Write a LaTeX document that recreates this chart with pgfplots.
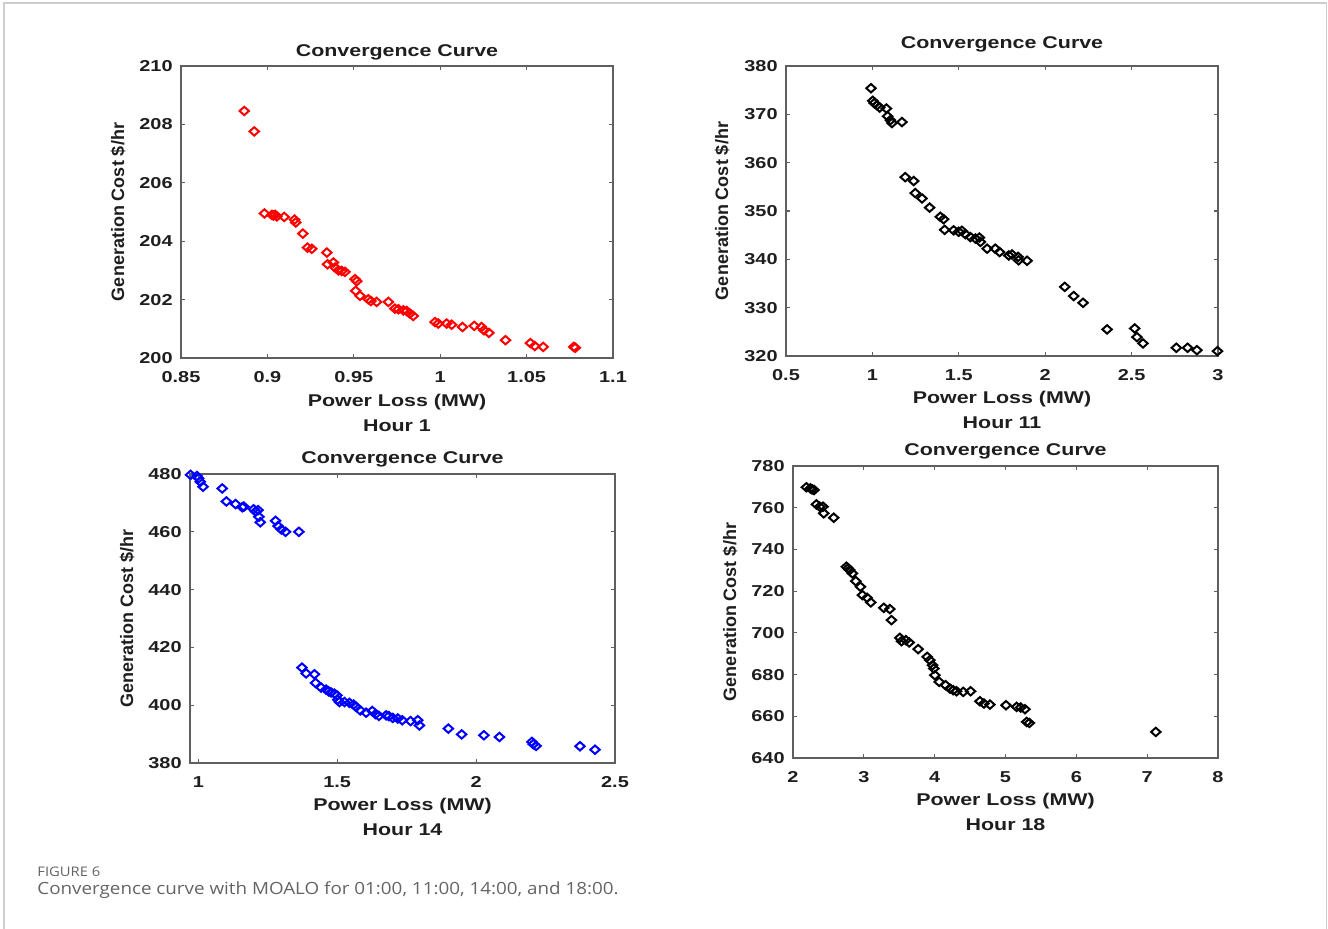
\documentclass[border=0pt]{standalone}
\usepackage{fontspec}
\usepackage{pgfplots}
\pgfplotsset{compat=1.18}
\setmainfont{Liberation Sans}
\newfontfamily\matfont[FakeStretch=1.26]{Liberation Sans}
\newfontfamily\capfont[FakeStretch=1.12]{Open Sans}
\definecolor{axgray}{RGB}{95,95,95}
\definecolor{txt}{RGB}{30,30,30}
\definecolor{framegray}{RGB}{205,205,205}
\definecolor{capgray}{RGB}{100,100,100}
\newcommand\tickf{\matfont\bfseries\fontsize{7.9}{9}\selectfont}
\newcommand\labf{\matfont\bfseries\fontsize{8.5}{10}\selectfont}
\newcommand\ylabf{\bfseries\fontsize{9}{10}\selectfont}

\pgfplotsset{
  panel/.style={
    scale only axis, clip=false, anchor=north west,
    axis line style={axgray, line width=0.7pt},
    tick style={axgray, line width=0.6pt},
    tick align=inside, major tick length=1.8pt,
    every tick label/.append style={font=\tickf, text=txt, inner sep=0pt},
    xticklabel style={anchor=center, yshift=-9.5pt},
    yticklabel style={anchor=east, xshift=-4pt},
    /pgf/number format/assume math mode=true,
    /pgf/number format/fixed,
    /pgf/number format/precision=2,
    scaled ticks=false,
  },
  pts/.style={only marks, mark=diamond, mark size=2.1pt, line width=1pt,
    mark options={xscale=1.5, fill=none}, #1},
}

\begin{document}
\begin{tikzpicture}
\path[use as bounding box] (0,0) rectangle (664pt,-464.5pt);
\draw[framegray, line width=0.8pt] (2pt,-470pt) -- (2pt,-1.5pt) -- (663.3pt,-1.5pt) -- (663.3pt,-470pt);

% Hour 1
\begin{axis}[panel, at={(90.5pt,-33pt)}, width=216pt, height=146pt,
  xmin=0.85, xmax=1.1, ymin=200, ymax=210,
  xtick={0.85,0.9,0.95,1,1.05,1.1}, ytick={200,202,...,210}]
\addplot[pts=red] coordinates {
(0.8866,208.46) (0.8924,207.76) (0.8983,204.95) (0.9026,204.90) (0.9035,204.88)
(0.9045,204.90) (0.9055,204.85) (0.9097,204.83) (0.9157,204.74) (0.9164,204.64)
(0.9205,204.26) (0.9232,203.78) (0.9257,203.74) (0.9344,203.61) (0.9348,203.21)
(0.9382,203.27) (0.9392,203.10) (0.9411,203.00) (0.9430,202.98) (0.9449,202.95)
(0.9507,202.70) (0.9517,202.63) (0.9511,202.30) (0.9536,202.13) (0.9584,202.01)
(0.9599,201.95) (0.9632,201.92) (0.9700,201.92) (0.9738,201.69) (0.9758,201.67)
(0.9787,201.63) (0.9806,201.61) (0.9825,201.52) (0.9844,201.44) (0.9970,201.23)
(0.9989,201.18) (1.0037,201.18) (1.0066,201.14) (1.0129,201.06) (1.0197,201.10)
(1.0239,201.06) (1.0253,200.95) (1.0282,200.86) (1.0378,200.61) (1.0522,200.51)
(1.0547,200.41) (1.0596,200.38) (1.0773,200.38) (1.0782,200.35)
};
\end{axis}

% Hour 11
\begin{axis}[panel, at={(393pt,-33pt)}, width=216pt, height=145pt,
  xmin=0.5, xmax=3, ymin=320, ymax=380,
  xtick={0.5,1,...,3}, ytick={320,330,...,380}]
\addplot[pts=black] coordinates {
(0.992,375.4) (1.002,372.8) (1.011,372.3) (1.027,371.9) (1.042,371.4)
(1.081,371.2) (1.088,369.6) (1.104,368.8) (1.113,368.2) (1.171,368.4)
(1.190,357.0) (1.239,356.2) (1.248,353.7) (1.287,352.6) (1.331,350.7)
(1.393,348.8) (1.412,348.3) (1.418,346.1) (1.470,346.0) (1.499,345.7)
(1.518,345.9) (1.538,345.2) (1.567,344.6) (1.596,344.3) (1.619,344.5)
(1.625,343.6) (1.664,342.2) (1.711,342.2) (1.736,341.5) (1.789,340.8)
(1.808,341.0) (1.843,340.5) (1.846,339.8) (1.895,339.7) (2.113,334.3)
(2.165,332.4) (2.219,331.0) (2.358,325.5) (2.518,325.7) (2.531,323.9)
(2.566,322.6) (2.759,321.7) (2.824,321.7) (2.878,321.2) (2.997,321.0)
};
\end{axis}

% Hour 14
\begin{axis}[panel, at={(95pt,-237pt)}, width=212.5pt, height=144.5pt,
  xmin=0.97, xmax=2.5, ymin=380, ymax=480,
  xtick={1,1.5,2,2.5}, ytick={380,400,...,480}]
\addplot[pts=blue] coordinates {
(0.972,479.7) (0.995,479.3) (1.001,478.5) (1.007,477.3) (1.017,475.6)
(1.086,475.0) (1.101,470.5) (1.134,469.6) (1.158,468.5) (1.164,468.7)
(1.199,467.8) (1.206,467.0) (1.215,467.5) (1.218,465.2) (1.223,463.3)
(1.278,463.8) (1.287,462.0) (1.299,460.8) (1.314,460.0) (1.362,460.0)
(1.373,413.0) (1.388,411.0) (1.418,410.7) (1.422,407.7) (1.442,406.1)
(1.460,405.4) (1.469,404.8) (1.478,404.4) (1.490,404.0) (1.499,403.4)
(1.502,401.9) (1.508,401.1) (1.526,401.1) (1.544,400.8) (1.559,400.2)
(1.568,399.4) (1.583,398.2) (1.604,397.4) (1.626,398.0) (1.638,396.9)
(1.650,396.3) (1.676,396.5) (1.686,396.2) (1.700,395.6) (1.718,395.4)
(1.734,394.8) (1.764,394.5) (1.790,394.8) (1.796,393.0) (1.900,391.9)
(1.948,389.9) (2.028,389.6) (2.084,389.0) (2.201,387.3) (2.206,386.5)
(2.216,385.9) (2.374,385.8) (2.428,384.6)
};
\end{axis}

% Hour 18
\begin{axis}[panel, at={(396.5pt,-233pt)}, width=212.5pt, height=146pt,
  xmin=2, xmax=8, ymin=640, ymax=780,
  xtick={2,3,...,8}, ytick={640,660,...,780}]
\addplot[pts=black] coordinates {
(2.189,769.8) (2.245,769.3) (2.269,768.8) (2.297,768.5) (2.330,761.6)
(2.377,760.5) (2.424,760.5) (2.434,757.3) (2.575,755.2) (2.754,731.7)
(2.778,730.9) (2.801,730.1) (2.839,728.5) (2.886,724.8) (2.952,722.1)
(2.980,718.1) (3.046,716.8) (3.098,714.6) (3.282,712.0) (3.367,711.4)
(3.390,706.1) (3.508,697.6) (3.532,696.0) (3.593,696.5) (3.640,695.4)
(3.767,692.2) (3.894,688.5) (3.932,686.9) (3.970,684.5) (3.989,682.9)
(4.003,679.7) (4.064,676.5) (4.154,674.9) (4.215,673.3) (4.262,672.5)
(4.309,672.0) (4.403,671.7) (4.507,672.0) (4.639,667.2) (4.696,666.1)
(4.780,665.6) (5.007,665.3) (5.157,664.5) (5.214,664.2) (5.275,663.4)
(5.299,657.3) (5.337,656.8) (7.122,652.5)
};
\end{axis}

% titles and labels
\begin{scope}[every node/.style={text=txt, inner sep=0pt}]
\node[font=\labf] at (198.5pt,-26pt) {Convergence Curve};
\node[font=\labf] at (198.5pt,-201pt) {Power Loss (MW)};
\node[font=\labf] at (198.5pt,-213pt) {Hour 1};
\node[font=\ylabf, rotate=90] at (59pt,-106pt) {Generation Cost \$/hr};

\node[font=\labf] at (501pt,-22pt) {Convergence Curve};
\node[font=\labf] at (501pt,-199.5pt) {Power Loss (MW)};
\node[font=\labf] at (501pt,-211.5pt) {Hour 11};
\node[font=\ylabf, rotate=90] at (361pt,-105.5pt) {Generation Cost \$/hr};

\node[font=\labf] at (201.25pt,-229.5pt) {Convergence Curve};
\node[font=\labf] at (201.25pt,-403pt) {Power Loss (MW)};
\node[font=\labf] at (201.25pt,-414.75pt) {Hour 14};
\node[font=\ylabf, rotate=90] at (63.5pt,-309.25pt) {Generation Cost \$/hr};

\node[font=\labf] at (502.75pt,-225.5pt) {Convergence Curve};
\node[font=\labf] at (502.75pt,-400.5pt) {Power Loss (MW)};
\node[font=\labf] at (502.75pt,-412.5pt) {Hour 18};
\node[font=\ylabf, rotate=90] at (365pt,-306pt) {Generation Cost \$/hr};
\end{scope}

% caption
\node[anchor=west, inner sep=0pt, text=capgray, font=\capfont\fontsize{6.6}{7}\selectfont] at (18.5pt,-436pt) {FIGURE 6};
\node[anchor=west, inner sep=0pt, text=capgray, font=\capfont\fontsize{8.4}{9}\selectfont] at (18.5pt,-445pt) {Convergence curve with MOALO for 01:00, 11:00, 14:00, and 18:00.};
\end{tikzpicture}
\end{document}
